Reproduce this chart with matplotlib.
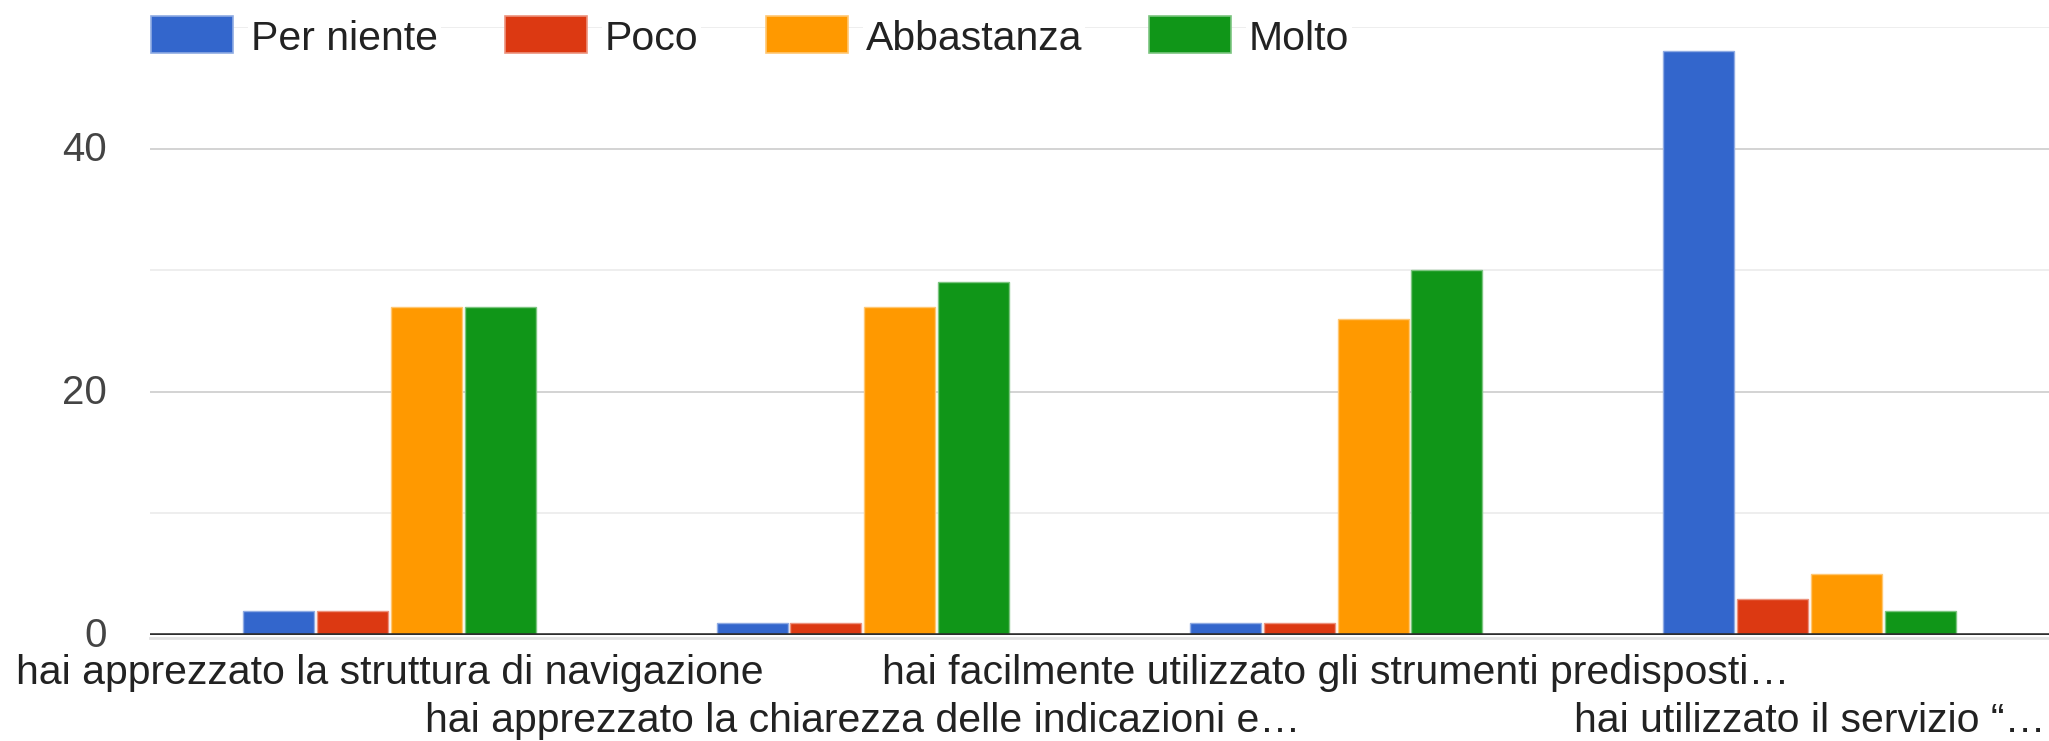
import matplotlib
matplotlib.use("Agg")
import matplotlib.pyplot as plt
from matplotlib.patches import Rectangle
from matplotlib.ticker import FixedLocator
from matplotlib.colors import to_rgb
import matplotlib.transforms as mtransforms
import numpy as np

# Survey questions (x categories) and answer levels (series)
categories = [
    "hai apprezzato la struttura di navigazione",
    "hai apprezzato la chiarezza delle indicazioni e…",
    "hai facilmente utilizzato gli strumenti predisposti…",
    "hai utilizzato il servizio “…",
]
series_names = ["Per niente", "Poco", "Abbastanza", "Molto"]
per_niente = [2, 1, 1, 48]
poco = [2, 1, 1, 3]
abbastanza = [27, 27, 26, 5]
molto = [27, 29, 30, 2]
y_major_ticks = [0, 20, 40]
y_minor_ticks = [10, 30, 50]

series_values = [per_niente, poco, abbastanza, molto]
colors = ["#3366cc", "#dc3912", "#ff9900", "#109618"]


def lighten(c, amount=0.45):
    r, g, b = to_rgb(c)
    return (r + (1 - r) * amount, g + (1 - g) * amount, b + (1 - b) * amount)


plt.rcParams["font.family"] = ["Liberation Sans", "DejaVu Sans"]

W, H = 2049, 741
fig = plt.figure(figsize=(W / 100, H / 100), dpi=100)
ax = fig.add_axes([150 / W, 1 - 635 / H, 1899 / W, 608 / H])

x = np.arange(len(categories))
pitch = 0.156
bar_w = 0.150
n = len(series_values)
for i, (vals, col) in enumerate(zip(series_values, colors)):
    offs = (i - (n - 1) / 2) * pitch
    ax.bar(x + offs, vals, width=bar_w, color=col,
           edgecolor=lighten(col), linewidth=1.0, zorder=2)

ax.set_xlim(-0.506, len(categories) - 0.494)
ax.set_ylim(0, 50)

# gridlines: labelled every 20, light lines in between
ax.yaxis.set_major_locator(FixedLocator(y_major_ticks))
ax.yaxis.set_minor_locator(FixedLocator(y_minor_ticks))
ax.set_yticklabels([str(v) for v in y_major_ticks])
ax.yaxis.grid(True, which="major", color="#cccccc", linewidth=1.2, zorder=0)
ax.yaxis.grid(True, which="minor", color="#ebebeb", linewidth=1.2, zorder=0)
ax.set_axisbelow(True)
ax.tick_params(axis="y", which="both", length=0, pad=31,
               labelsize=29, labelcolor="#444444")
lift = mtransforms.ScaledTranslation(0, 2.2 / 72, fig.dpi_scale_trans)
for lbl in ax.get_yticklabels():
    lbl.set_transform(lbl.get_transform() + lift)

# baseline with a soft shadow underneath
shadow = mtransforms.offset_copy(ax.get_yaxis_transform(), fig=fig, x=0, y=-2.4,
                                 units="points")
ax.plot([0, 1], [0, 0], color="#e2e2e2", linewidth=2.0, zorder=2.5,
        transform=shadow, clip_on=False)
ax.axhline(0, color="#2e2e2e", linewidth=2.6, zorder=3)

# category labels staggered on two rows: even ones as tick labels,
# odd ones one line lower
ax.set_xticks(x)
ax.set_xticklabels([c if i % 2 == 0 else "" for i, c in enumerate(categories)],
                   fontsize=29.5, color="#222222")
ax.tick_params(axis="x", length=0, pad=14)
for i, c in enumerate(categories):
    if i % 2 == 1:
        ax.annotate(c, xy=(x[i], 0), xycoords=("data", "axes fraction"),
                    xytext=(0, -69.8), textcoords="offset points",
                    ha="center", va="baseline", fontsize=29.5, color="#222222",
                    annotation_clip=False)

for s in ax.spines.values():
    s.set_visible(False)

# legend row along the top: colour swatch followed by its name
fig.canvas.draw()
renderer = fig.canvas.get_renderer()
cursor = 151.0
sw_w, sw_h = 82, 37
sw_top = 16
text_baseline = 50.5
for name, col in zip(series_names, colors):
    fig.patches.append(Rectangle((cursor / W, 1 - (sw_top + sw_h) / H), sw_w / W, sw_h / H,
                                 transform=fig.transFigure, facecolor=col,
                                 edgecolor=lighten(col), linewidth=1.2, zorder=5))
    tx = cursor + sw_w + 18
    t = fig.text(tx / W, 1 - text_baseline / H, name, fontsize=29.5, color="#222222",
                 ha="left", va="baseline", zorder=5,
                 bbox=dict(facecolor="white", edgecolor="none", pad=2))
    bb = t.get_window_extent(renderer)
    cursor = tx + bb.width + 67

fig.savefig("out.png", dpi=100, facecolor="white")
